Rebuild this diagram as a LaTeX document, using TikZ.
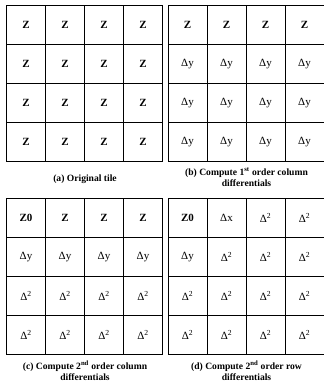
\documentclass[tikz,border=0pt]{standalone}
\usepackage{fontspec}
\setmainfont{Liberation Serif}
\usetikzlibrary{positioning}

% cell contents
\newcommand{\zc}{\textbf{Z}}
\newcommand{\zo}{\textbf{Z0}}
\newcommand{\dy}{Δy}
\newcommand{\dx}{Δx}
\newcommand{\dd}{Δ\textsuperscript{2}}

\begin{document}
\begin{tikzpicture}[
    x=1pt, y=-1pt,
    node distance=8pt,
    cell/.style={draw, line width=1pt, minimum size=39pt, inner sep=0pt,
        anchor=north west, font=\fontsize{11}{12}\selectfont},
    caption/.style={align=center, font=\fontsize{9.6}{11}\selectfont\bfseries}
]
\useasboundingbox (0,0) rectangle (324,383);

% (a) Original tile
\foreach \row [count=\i] in {{\zc,\zc,\zc,\zc},{\zc,\zc,\zc,\zc},{\zc,\zc,\zc,\zc},{\zc,\zc,\zc,\zc}}
    \foreach \txt [count=\j] in \row
        \node[cell] (a-\i-\j) at ({6+39*(\j-1)},{5+39*(\i-1)}) {\txt};

% (b) 1st order column
\foreach \row [count=\i] in {{\zc,\zc,\zc,\zc},{\dy,\dy,\dy,\dy},{\dy,\dy,\dy,\dy},{\dy,\dy,\dy,\dy}}
    \foreach \txt [count=\j] in \row
        \node[cell] (b-\i-\j) at ({167.5+39*(\j-1)},{5+39*(\i-1)}) {\txt};

% (c) 2nd order column
\foreach \row [count=\i] in {{\zo,\zc,\zc,\zc},{\dy,\dy,\dy,\dy},{\dd,\dd,\dd,\dd},{\dd,\dd,\dd,\dd}}
    \foreach \txt [count=\j] in \row
        \node[cell] (c-\i-\j) at ({6+39*(\j-1)},{198+39*(\i-1)}) {\txt};

% (d) 2nd order row
\foreach \row [count=\i] in {{\zo,\dx,\dd,\dd},{\dy,\dd,\dd,\dd},{\dd,\dd,\dd,\dd},{\dd,\dd,\dd,\dd}}
    \foreach \txt [count=\j] in \row
        \node[cell] (d-\i-\j) at ({167.5+39*(\j-1)},{198+39*(\i-1)}) {\txt};

% Captions
\node[caption, below=9pt of a-4-2.south east] (cap-a) {(a) Original tile};
\node[caption, below=2.5pt of b-4-2.south east] (cap-b)
    {(b) Compute 1\textsuperscript{st} order column\\differentials};
\node[caption, below=2.5pt of c-4-2.south east] (cap-c)
    {(c) Compute 2\textsuperscript{nd} order column\\differentials};
\node[caption, below=2.5pt of d-4-2.south east] (cap-d)
    {(d) Compute 2\textsuperscript{nd} order row\\differentials};

\end{tikzpicture}
\end{document}
